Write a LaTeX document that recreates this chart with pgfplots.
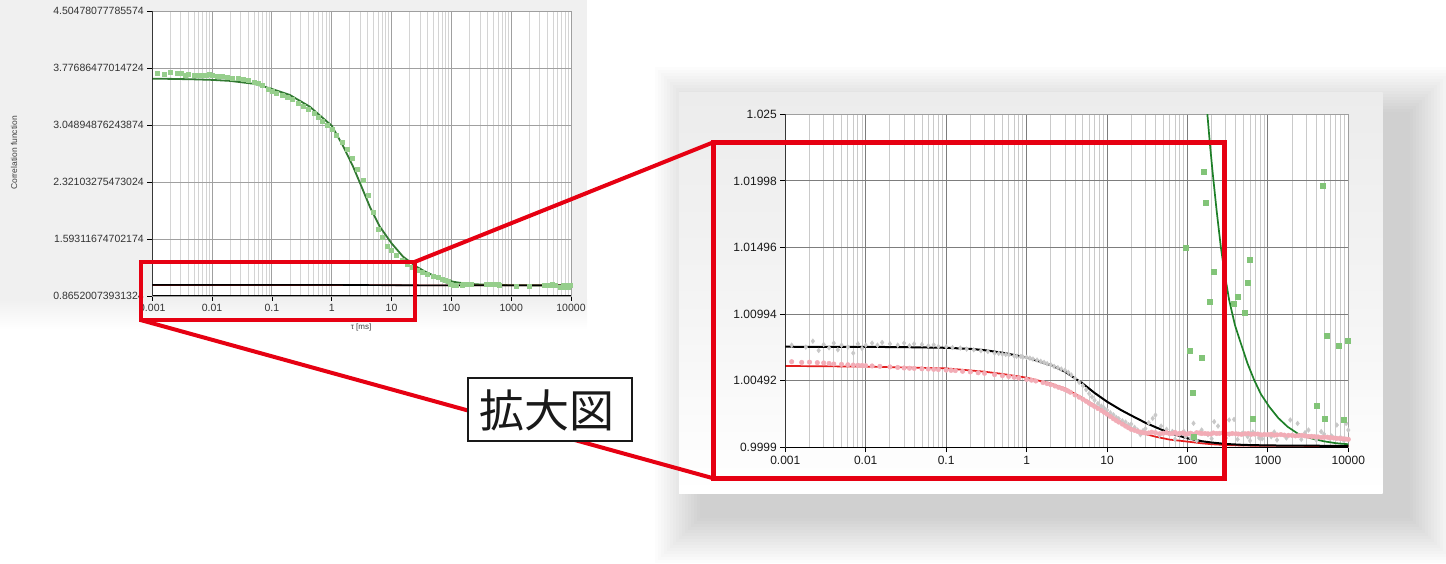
\documentclass[border=0pt]{standalone}
\usepackage{pgfplots}
\pgfplotsset{compat=1.18}
\usepackage{pgfplotstable}
\usepackage{fontspec}
\setmainfont{Liberation Sans}
\newfontfamily\cjk{Noto Sans CJK JP}

\definecolor{boxred}{RGB}{230,0,18}
\definecolor{fitgreen}{RGB}{30,128,40}
\definecolor{fitgreenL}{RGB}{50,122,50}
\definecolor{ptgreen}{RGB}{130,196,120}
\definecolor{ptgreenL}{RGB}{150,206,140}
\definecolor{fitred}{RGB}{228,30,30}
\definecolor{ptpink}{RGB}{242,172,182}
\definecolor{ptgrey}{RGB}{200,200,200}
\definecolor{bgl}{RGB}{240,240,240}
\definecolor{panelg}{RGB}{236,236,236}
\definecolor{majR}{RGB}{125,125,125}
\definecolor{minR}{RGB}{202,202,202}
\definecolor{majL}{RGB}{160,160,160}
\definecolor{minL}{RGB}{212,212,212}

\pgfplotstableread{
t g
0.001 3.640
0.002 3.638
0.005 3.632
0.01 3.625
0.02 3.612
0.05 3.575
0.092 3.518
0.2 3.432
0.43 3.283
0.72 3.134
1 3.040
1.55 2.780
2.28 2.516
3.15 2.261
4.33 2.006
6.37 1.750
10 1.538
15.6 1.367
26.1 1.239
40 1.160
56.4 1.112
80 1.075
107 1.048
130 1.037
160 1.0285
177 1.0250
190 1.0228
205 1.0207
230 1.0178
260 1.0150
290 1.0130
330 1.0110
390 1.0091
461 1.00774
560 1.0062
676 1.00497
820 1.0039
1040 1.00296
1350 1.0021
1757 1.00145
2400 1.0009
3430 1.00058
5000 1.00035
7000 1.00021
10000 1.00013
}\greenfit

\pgfplotstableread{
t g
0.0012 3.715
0.0016 3.700
0.002 3.728
0.0026 3.705
0.003 3.712
0.0035 3.688
0.004 3.694
0.005 3.686
0.006 3.690
0.007 3.682
0.008 3.688
0.009 3.696
0.010 3.680
0.012 3.672
0.015 3.668
0.018 3.660
0.022 3.650
0.027 3.642
0.033 3.630
0.04 3.620
0.05 3.600
0.06 3.585
0.07 3.560
0.085 3.500
0.1 3.480
0.12 3.460
0.15 3.430
0.18 3.405
0.22 3.375
0.27 3.330
0.33 3.290
0.4 3.250
0.5 3.200
0.6 3.150
0.7 3.100
0.85 3.040
1.0 2.990
1.2 2.920
1.5 2.830
1.8 2.740
2.2 2.630
2.7 2.490
3.3 2.350
4.0 2.150
5.0 1.940
6.0 1.720
7.0 1.620
8.5 1.500
10 1.450
12 1.390
15 1.320
18 1.270
22 1.230
27 1.195
33 1.165
40 1.145
50 1.120
60 1.100
70 1.085
80 1.070
90 1.058
95 1.01492
107 1.00716
117 1.00405
120 1.0007
149 1.00668
158 1.02065
170 1.01834
190 1.0109
212 1.01314
379 1.0107
421 1.01123
514 1.01005
556 1.01228
600 1.01402
641 1.00209
1200 0.995
2000 0.990
3500 0.99983
4083 1.00301
4808 1.01962
5045 1.00203
5387 1.00834
6500 0.975
7530 1.00756
8000 0.972
8851 1.00201
9000 0.978
9750 1.00794
}\greendata

\pgfplotstableread{
t g
0.001 1.00748
0.01 1.00747
0.03 1.00745
0.1 1.00740
0.2 1.00732
0.3 1.00722
0.5 1.00703
1 1.00667
2 1.00610
3 1.00560
5 1.00470
7 1.00400
10 1.00334
15 1.00270
20 1.00230
30 1.00175
40 1.00142
60 1.00098
100 1.00058
150 1.00036
200 1.00026
300 1.00015
500 1.00008
1000 1.00004
3000 1.00002
10000 1.00001
}\blackfit

\pgfplotstableread{
t g
0.001 1.00603
0.01 1.00598
0.03 1.00592
0.1 1.00585
0.3 1.00560
0.5 1.00543
1 1.00515
2 1.00470
3 1.00435
5 1.00360
7 1.00305
10 1.00246
15 1.00180
20 1.00133
30 1.00090
40 1.00070
60 1.00048
100 1.00033
150 1.00020
200 1.00013
300 1.00007
500 1.00003
1000 1.00001
10000 1.00000
}\redfit

\pgfplotstableread{
t g
0.0012 1.00635
0.0016 1.00630
0.002 1.00632
0.0025 1.00628
0.003 1.00626
0.0035 1.00622
0.004 1.00618
0.005 1.00615
0.006 1.00612
0.007 1.00610
0.008 1.00608
0.01 1.00605
0.012 1.00603
0.015 1.00600
0.02 1.00596
0.025 1.00592
0.03 1.00588
0.04 1.00585
0.05 1.00582
0.06 1.00580
0.08 1.00576
0.1 1.00572
0.13 1.00568
0.16 1.00563
0.2 1.00558
0.25 1.00552
0.3 1.00548
0.4 1.00538
0.5 1.00530
0.6 1.00524
0.8 1.00512
1.0 1.00502
1.3 1.00490
1.6 1.00478
2.0 1.00462
2.5 1.00442
3.0 1.00425
3.5 1.00405
4.0 1.00385
5.0 1.00352
6.0 1.00322
7.0 1.00298
8.5 1.00268
10 1.00240
12 1.00205
14 1.00180
17 1.00150
20 1.00125
24 1.00110
28 1.00100
33 1.00098
40 1.00100
50 1.00096
60 1.00092
70 1.00102
80 1.00095
95 1.00090
110 1.00096
130 1.00100
150 1.00094
180 1.00092
210 1.00098
250 1.00095
300 1.00092
360 1.00094
430 1.00090
520 1.00092
620 1.00088
750 1.00090
900 1.00086
1100 1.00088
1300 1.00084
1600 1.00082
2000 1.00080
2400 1.00078
2900 1.00076
3500 1.00072
4200 1.00068
5000 1.00066
6000 1.00062
7200 1.00058
8600 1.00054
10000 1.00050
0.009 1.00607
0.035 1.00586
0.07 1.00578
0.115 1.00570
0.7 1.00518
1.15 1.00496
1.8 1.00470
2.25 1.00452
2.75 1.00434
3.25 1.00415
4.5 1.00368
5.5 1.00337
6.5 1.00310
7.7 1.00283
9.2 1.00254
11 1.00222
13 1.00192
15.5 1.00165
18.5 1.00137
22 1.00118
26 1.00104
30 1.00098
36 1.00104
45 1.00092
55 1.00100
65 1.00094
75 1.00090
88 1.00098
102 1.00092
120 1.00088
140 1.00098
165 1.00094
195 1.00090
230 1.00094
275 1.00098
330 1.00090
400 1.00092
470 1.00088
570 1.00094
680 1.00090
820 1.00084
1000 1.00086
1200 1.00082
1450 1.00086
1800 1.00080
2200 1.00076
2650 1.00080
3200 1.00072
3800 1.00070
4600 1.00064
5500 1.00066
6600 1.00060
7900 1.00056
9300 1.00052
}\pinkdata

\pgfplotstableread{
t g
0.0012 1.00760
0.0018 1.00745
0.0022 1.00790
0.0026 1.00720
0.003 1.00765
0.0035 1.00740
0.004 1.00775
0.0045 1.00725
0.005 1.00760
0.006 1.00745
0.007 1.00700
0.008 1.00770
0.009 1.00735
0.010 1.00760
0.012 1.00775
0.014 1.00760
0.016 1.00780
0.02 1.00770
0.025 1.00760
0.03 1.00775
0.035 1.00755
0.04 1.00770
0.05 1.00765
0.06 1.00755
0.07 1.00762
0.08 1.00750
0.1 1.00748
0.12 1.00742
0.15 1.00738
0.18 1.00730
0.22 1.00725
0.27 1.00718
0.33 1.00712
0.4 1.00700
0.5 1.00692
0.6 1.00688
0.7 1.00680
0.85 1.00675
1.0 1.00668
1.2 1.00655
1.5 1.00638
1.8 1.00620
2.2 1.00600
2.7 1.00580
3.3 1.00555
4.0 1.00510
5.0 1.00455
6.0 1.00395
7.0 1.00345
8.5 1.00300
10 1.00270
12 1.00235
14 1.00205
17 1.00180
20 1.00165
24 1.00120
28 1.00115
33 1.00175
37 1.00208
40 1.00233
47 1.00150
55 1.00125
65 1.00110
80 1.00090
95 1.00070
110 1.00060
119 1.00171
150 1.00120
180 1.00085
215 1.00183
240 1.00150
280 1.00110
330 1.00196
380 1.00200
480 1.00095
560 1.00070
650 1.00105
780 1.00060
900 1.00090
1100 1.00070
1300 1.00045
1900 1.00196
2000 1.00080
2340 1.00170
2900 1.00100
3500 1.00070
4600 1.00108
5000 1.00090
5800 1.00060
7200 1.00158
8000 1.00065
9400 1.00170
10000 1.00120
0.45 1.00698
0.55 1.00690
0.75 1.00676
0.9 1.00670
1.1 1.00662
1.35 1.00648
1.65 1.00630
2.0 1.00612
2.45 1.00590
3.0 1.00570
3.6 1.00535
4.5 1.00480
5.5 1.00425
6.5 1.00370
7.7 1.00320
9.2 1.00285
11 1.00250
13 1.00215
15.5 1.00190
18.5 1.00160
22 1.00140
26 1.00085
30 1.00130
45 1.00080
70 1.00050
90 1.00110
130 1.00040
200 1.00055
300 1.00060
420 1.00050
600 1.00040
850 1.00055
1200 1.00105
1700 1.00060
2600 1.00050
3200 1.00120
4000 1.00045
6200 1.00075
8700 1.00045
}\greydata

\begin{document}
\begin{tikzpicture}[x=1pt,y=1pt]
\path[use as bounding box] (0,0) rectangle (1446,563);

% left background
\fill[bgl] (0,263) rectangle (587,563);
\shade[top color=bgl, bottom color=white] (0,233) rectangle (587,263.5);

% right panel soft shadow
\foreach \i in {1,...,16} {
  \fill[black, opacity=0.013] ({703-3*\i},{47.7-3*\i}) rectangle ({1406.7+3*\i},{448.3+3*\i});
}
\shade[top color=panelg, bottom color=white, middle color=panelg!60!white] (679,69.7) rectangle (1382.7,470.3);

% left chart
\begin{axis}[
  scale only axis,
  xmode=log, xmin=0.001, xmax=10000,
  xtick={0.001,0.01,0.1,1,10,100,1000,10000},
  xticklabels={0.001,0.01,0.1,1,10,100,1000,10000},
  minor xtick={0.002,0.003,0.004,0.005,0.006,0.007,0.008,0.009,
    0.02,0.03,0.04,0.05,0.06,0.07,0.08,0.09,
    0.2,0.3,0.4,0.5,0.6,0.7,0.8,0.9,
    2,3,4,5,6,7,8,9,
    20,30,40,50,60,70,80,90,
    200,300,400,500,600,700,800,900,
    2000,3000,4000,5000,6000,7000,8000,9000},
  xmajorgrids, xminorgrids, ymajorgrids,
  tick align=outside,
  xtick pos=left, ytick pos=left,
  major tick length=5pt, minor tick length=0pt,
  major tick style={black, line width=0.8pt},
  axis line style={draw=gray!75, line width=0.8pt},
  axis background/.style={fill=white},
  at={(152.3pt,267pt)}, anchor=south west,
  width=418.7pt, height=285pt,
  ymin=0.86520073931324, ymax=4.50478077785574,
  ytick={0.86520073931324,1.59311674702174,2.32103275473024,3.04894876243874,3.77686477014724,4.50478077785574},
  yticklabels={0.86520073931324,1.59311674702174,2.32103275473024,3.04894876243874,3.77686477014724,4.50478077785574},
  major grid style={majL, line width=0.9pt},
  minor grid style={minL, line width=0.8pt},
  tick label style={font=\fontsize{10.5}{12}\selectfont, text=black!80},
  xlabel={τ [ms]},
  xlabel style={at={(axis description cs:0.4985,-0.1088)}, anchor=center, font=\fontsize{8}{9}\selectfont, text=black!75},
  ylabel={Correlation function},
  ylabel style={at={(axis description cs:-0.330,0.502)}, anchor=center, font=\fontsize{8.5}{10}\selectfont, text=black!75},
]
\addplot[only marks, mark=square*, mark size=2pt, color=ptgreenL] table[x=t,y=g]{\greendata};
\addplot[fitgreenL, line width=1.8pt, no markers] table[x=t,y=g]{\greenfit};
\addplot[fitred!60!black, line width=1.6pt, no markers] table[x=t,y=g]{\redfit};
\addplot[black, line width=1.6pt, no markers] table[x=t,y=g]{\blackfit};
\draw[black, line width=1.1pt] (rel axis cs:0,1) -- (rel axis cs:0,0) -- (rel axis cs:1,0);
\end{axis}

% right chart
\begin{axis}[
  scale only axis,
  xmode=log, xmin=0.001, xmax=10000,
  xtick={0.001,0.01,0.1,1,10,100,1000,10000},
  xticklabels={0.001,0.01,0.1,1,10,100,1000,10000},
  minor xtick={0.002,0.003,0.004,0.005,0.006,0.007,0.008,0.009,
    0.02,0.03,0.04,0.05,0.06,0.07,0.08,0.09,
    0.2,0.3,0.4,0.5,0.6,0.7,0.8,0.9,
    2,3,4,5,6,7,8,9,
    20,30,40,50,60,70,80,90,
    200,300,400,500,600,700,800,900,
    2000,3000,4000,5000,6000,7000,8000,9000},
  xmajorgrids, xminorgrids, ymajorgrids,
  tick align=outside,
  xtick pos=left, ytick pos=left,
  major tick length=5pt, minor tick length=0pt,
  major tick style={black, line width=0.8pt},
  axis line style={draw=gray!75, line width=0.8pt},
  axis background/.style={fill=white},
  at={(785.3pt,115.7pt)}, anchor=south west,
  width=563pt, height=333pt,
  ymin=0.9999, ymax=1.025,
  restrict y to domain=0.99:1.03,
  ytick={0.9999,1.00492,1.00994,1.01496,1.01998,1.025},
  yticklabels={0.9999,1.00492,1.00994,1.01496,1.01998,1.025},
  major grid style={majR, line width=0.9pt},
  minor grid style={minR, line width=0.9pt},
  tick label style={font=\fontsize{12}{14}\selectfont, text=black!90},
]
\addplot[only marks, mark=diamond*, mark size=2.4pt, color=ptgrey] table[x=t,y=g]{\greydata};
\addplot[only marks, mark=*, mark size=2.3pt, color=ptpink] table[x=t,y=g]{\pinkdata};
\addplot[only marks, mark=square*, mark size=2.5pt, color=ptgreen] table[x=t,y=g]{\greendata};
\addplot[fitred, line width=1.7pt, no markers] table[x=t,y=g]{\redfit};
\addplot[black, line width=2pt, no markers] table[x=t,y=g]{\blackfit};
\addplot[fitgreen, line width=1.7pt, no markers] table[x=t,y=g]{\greenfit};
\draw[black, line width=1.2pt] (rel axis cs:0,1) -- (rel axis cs:0,0) -- (rel axis cs:1,0);
\end{axis}

% zoom indication
\draw[boxred, line width=4pt] (140.5,243) rectangle (414.5,301);
\draw[boxred, line width=4pt] (414.5,301) -- (713.3,420.7);
\draw[boxred, line width=4pt] (140.5,243) -- (713.3,84.7);
\draw[boxred, line width=5pt] (713.3,84.7) rectangle (1224,420.7);
\draw[black!90, line width=2pt, fill=white] (468.3,122) rectangle (632.3,184.7);
\node[font=\cjk\fontsize{45}{50}\selectfont, text=black!90] at (547,152.5) {拡大図};
\end{tikzpicture}
\end{document}
